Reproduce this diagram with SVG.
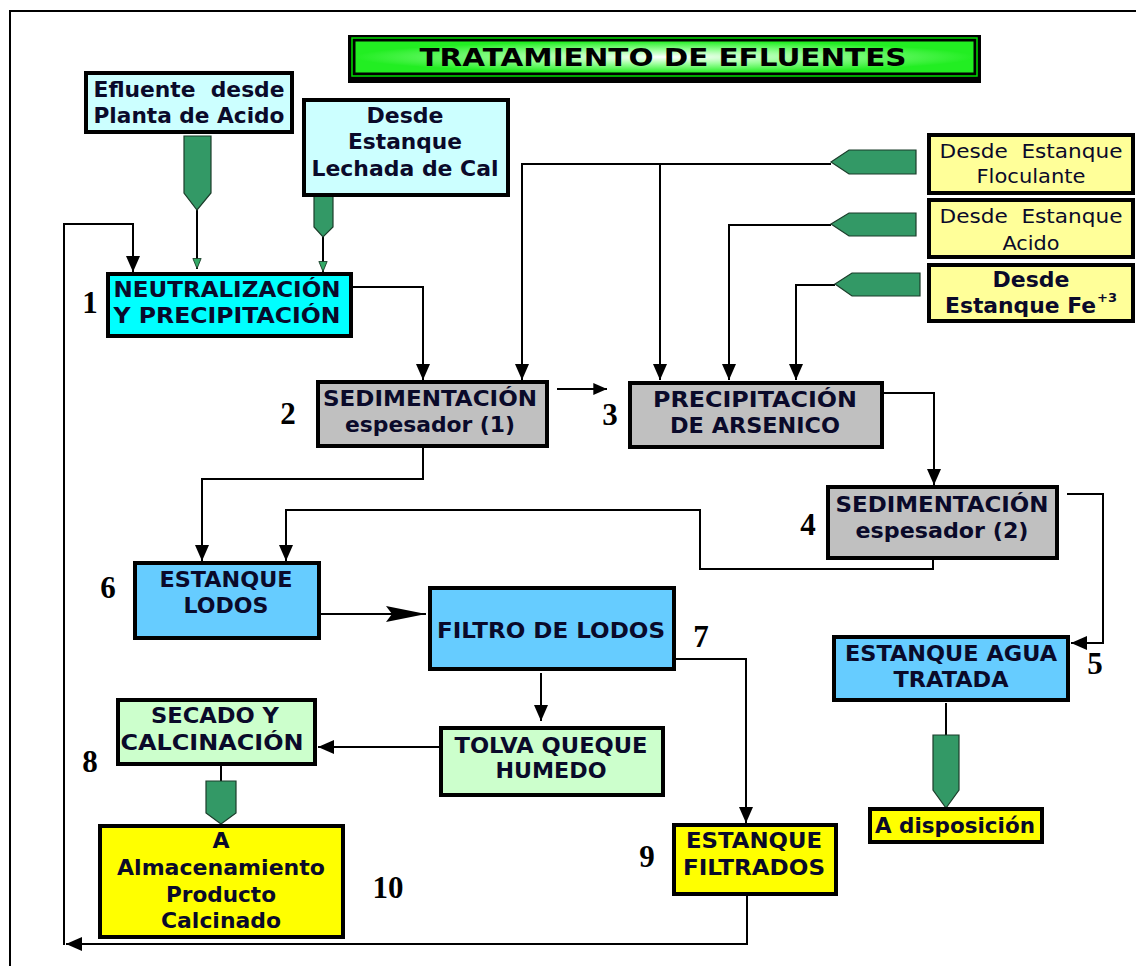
<svg xmlns="http://www.w3.org/2000/svg" width="1136" height="966" viewBox="0 0 1136 966">
<defs>
<radialGradient id="tg" cx="50%" cy="50%" r="50%">
<stop offset="0" stop-color="#ffffff"/>
<stop offset="0.45" stop-color="#99ff99"/>
<stop offset="1" stop-color="#22ee22"/>
</radialGradient>
<marker id="ah" markerUnits="userSpaceOnUse" viewBox="0 0 16 14" refX="16" refY="7" markerWidth="16" markerHeight="14" orient="auto">
<path d="M0,0 L16,7 L0,14 Z" fill="#000"/>
</marker>
<marker id="ahs" markerUnits="userSpaceOnUse" viewBox="0 0 16 14" refX="16" refY="7" markerWidth="14" markerHeight="12" orient="auto">
<path d="M0,0 L16,7 L0,14 Z" fill="#000"/>
</marker>
<marker id="ahl" markerUnits="userSpaceOnUse" viewBox="0 0 40 16" refX="40" refY="8" markerWidth="40" markerHeight="16" orient="auto">
<path d="M0,0 L40,8 L0,16 L6,8 Z" fill="#000"/>
</marker>
<marker id="ahg" markerUnits="userSpaceOnUse" viewBox="0 0 12 10" refX="12" refY="5" markerWidth="11" markerHeight="10" orient="auto">
<path d="M0.5,0.5 L11.5,5 L0.5,9.5 Z" fill="#33aa66" stroke="#1b3d2a" stroke-width="1"/>
</marker>
</defs>
<style>
.box{stroke:#000;stroke-width:4}
.cy{fill:#ccffff}
.aq{fill:#00ffff}
.gr{fill:#c0c0c0}
.bl{fill:#66ccff}
.lg{fill:#ccffcc}
.ye{fill:#ffff00}
.ly{fill:#ffff99}
.t{font-family:"DejaVu Sans","Verdana",sans-serif;font-weight:bold;font-size:22px;fill:#0a0a2a;text-anchor:middle;white-space:pre}
.tn{font-family:"DejaVu Sans","Verdana",sans-serif;font-size:20px;fill:#0a0a2a;text-anchor:middle;white-space:pre}
.n{font-family:"Liberation Serif","Times New Roman",serif;font-weight:bold;font-size:31px;fill:#000;text-anchor:middle}
.c{fill:none;stroke:#000;stroke-width:2}
.ptr{fill:#339966;stroke:#1b3d2a;stroke-width:1.2}
</style>
<rect width="1136" height="966" fill="#fff"/>
<path d="M10,966 V11 H1136" fill="none" stroke="#000" stroke-width="2"/>

<g id="title">
<rect x="348" y="35" width="633" height="48" fill="#000"/>
<rect x="352" y="38" width="625" height="38" fill="none" stroke="#00dd00" stroke-width="1.5"/>
<rect x="355" y="41" width="619" height="32" fill="url(#tg)" stroke="#000" stroke-width="1"/>
<text x="663" y="66" class="t" style="font-size:25px;fill:#000" textLength="487" lengthAdjust="spacingAndGlyphs">TRATAMIENTO DE EFLUENTES</text>
</g>

<g id="connectors">
<path class="c" d="M747,895 V944 H66" marker-end="url(#ah)"/>
<path class="c" d="M64,945 V224 H133 V272" stroke-width="2.5" marker-end="url(#ah)"/>
<path class="c" d="M197,210 V269" stroke-width="1.5" marker-end="url(#ahg)"/>
<path class="c" d="M323,237 V272" stroke-width="3.5" marker-end="url(#ahg)"/>
<path class="c" d="M352,287 H423 V380" marker-end="url(#ah)"/>
<path class="c" d="M831,164 H522 V380" marker-end="url(#ah)"/>
<path class="c" d="M660,164 V380" stroke="#555" stroke-width="1.5" marker-end="url(#ah)"/>
<path class="c" d="M831,225 H729 V380" marker-end="url(#ah)"/>
<path class="c" d="M835,285 H796 V380" marker-end="url(#ah)"/>
<path class="c" d="M557,389 H607" stroke-width="1.5" marker-end="url(#ahs)"/>
<path class="c" d="M883,393 H934 V485" stroke-width="2.5" marker-end="url(#ah)"/>
<path class="c" d="M1067,494 H1103 V643 H1071" stroke-width="2.5" marker-end="url(#ah)"/>
<path class="c" d="M946,703 V735" stroke-width="1.5"/>
<path class="c" d="M423,448 V479 H202 V561" marker-end="url(#ah)"/>
<path class="c" d="M933,559 V569 H700 V510 H286 V561" marker-end="url(#ah)"/>
<path class="c" d="M316,614 H426" stroke-width="2.5" marker-end="url(#ahl)"/>
<path class="c" d="M675,659 H746 V823" marker-end="url(#ah)"/>
<path class="c" d="M541,673 V721" stroke-width="3" marker-end="url(#ah)"/>
<path class="c" d="M440,747 H318" stroke-width="2.5" marker-end="url(#ah)"/>
<path class="c" d="M221,764 V781" stroke-width="3.5"/>
<polygon class="ptr" points="184,136 211,136 211,193 197,210 184,193"/>
<polygon class="ptr" points="314,196 333,196 333,227 323,237 314,227"/>
<polygon class="ptr" points="831,162 849,150 916,150 916,174 849,174"/>
<polygon class="ptr" points="831,224 849,213 916,213 916,236 849,236"/>
<polygon class="ptr" points="835,284 852,273 920,273 920,296 852,296"/>
<polygon class="ptr" points="933,735 959,735 959,790 946,808 933,790"/>
<polygon class="ptr" points="206,781 236,781 236,813 221,824 206,813"/>
</g>

<g id="efluente">
<rect class="box cy" x="86" y="73" width="206" height="59"/>
<text class="t" x="189" y="97" textLength="191" lengthAdjust="spacingAndGlyphs">Efluente  desde</text>
<text class="t" x="189" y="123" textLength="191" lengthAdjust="spacingAndGlyphs">Planta de Acido</text>
</g>

<g id="lechada">
<rect class="box cy" x="304" y="100" width="204" height="95"/>
<text class="t" x="405" y="123" textLength="77" lengthAdjust="spacingAndGlyphs">Desde</text>
<text class="t" x="405" y="149" textLength="114" lengthAdjust="spacingAndGlyphs">Estanque</text>
<text class="t" x="405" y="176" textLength="187" lengthAdjust="spacingAndGlyphs">Lechada de Cal</text>
</g>

<g id="floculante">
<rect class="box ly" x="929" y="135" width="204" height="58"/>
<text class="tn" x="1031" y="158" textLength="183" lengthAdjust="spacingAndGlyphs">Desde  Estanque</text>
<text class="tn" x="1031" y="183" textLength="109" lengthAdjust="spacingAndGlyphs">Floculante</text>
</g>

<g id="acido">
<rect class="box ly" x="929" y="200" width="204" height="57"/>
<text class="tn" x="1031" y="223" textLength="183" lengthAdjust="spacingAndGlyphs">Desde  Estanque</text>
<text class="tn" x="1031" y="250" textLength="57" lengthAdjust="spacingAndGlyphs">Acido</text>
</g>

<g id="fe">
<rect class="box ly" x="929" y="265" width="204" height="56"/>
<text class="t" x="1031" y="287" style="font-size:21px" textLength="77" lengthAdjust="spacingAndGlyphs">Desde</text>
<text class="t" x="945" y="313" style="font-size:21px;text-anchor:start" textLength="151" lengthAdjust="spacingAndGlyphs">Estanque Fe</text>
<text class="t" x="1097" y="302" style="font-size:13px;text-anchor:start">+3</text>
</g>

<g id="neutralizacion">
<rect class="box aq" x="108" y="274" width="243" height="62"/>
<text class="t" x="227" y="297" textLength="227" lengthAdjust="spacingAndGlyphs">NEUTRALIZACIÓN</text>
<text class="t" x="227" y="323" textLength="227" lengthAdjust="spacingAndGlyphs">Y PRECIPITACIÓN</text>
<text class="n" x="90" y="313">1</text>
</g>

<g id="sedimentacion1">
<rect class="box gr" x="318" y="382" width="229" height="64"/>
<text class="t" x="430" y="406" textLength="214" lengthAdjust="spacingAndGlyphs">SEDIMENTACIÓN</text>
<text class="t" x="430" y="432" textLength="170" lengthAdjust="spacingAndGlyphs">espesador (1)</text>
<text class="n" x="288" y="424">2</text>
</g>

<g id="precipitacion">
<rect class="box gr" x="630" y="383" width="252" height="64"/>
<text class="t" x="755" y="407" textLength="204" lengthAdjust="spacingAndGlyphs">PRECIPITACIÓN</text>
<text class="t" x="755" y="433" textLength="170" lengthAdjust="spacingAndGlyphs">DE ARSENICO</text>
<text class="n" x="610" y="425">3</text>
</g>

<g id="sedimentacion2">
<rect class="box gr" x="828" y="487" width="229" height="71"/>
<text class="t" x="942" y="512" textLength="213" lengthAdjust="spacingAndGlyphs">SEDIMENTACIÓN</text>
<text class="t" x="942" y="538" textLength="173" lengthAdjust="spacingAndGlyphs">espesador (2)</text>
<text class="n" x="808" y="535">4</text>
</g>

<g id="agua-tratada">
<rect class="box bl" x="834" y="637" width="234" height="63"/>
<text class="t" x="951" y="661" textLength="212" lengthAdjust="spacingAndGlyphs">ESTANQUE AGUA</text>
<text class="t" x="951" y="687" textLength="115" lengthAdjust="spacingAndGlyphs">TRATADA</text>
<text class="n" x="1095" y="674">5</text>
</g>

<g id="disposicion">
<rect class="box ye" x="870" y="809" width="172" height="33"/>
<text class="t" x="955" y="833" textLength="160" lengthAdjust="spacingAndGlyphs">A disposición</text>
</g>

<g id="estanque-lodos">
<rect class="box bl" x="135" y="563" width="184" height="75"/>
<text class="t" x="226" y="587" textLength="133" lengthAdjust="spacingAndGlyphs">ESTANQUE</text>
<text class="t" x="226" y="613" textLength="85" lengthAdjust="spacingAndGlyphs">LODOS</text>
<text class="n" x="108" y="598">6</text>
</g>

<g id="filtro-lodos">
<rect class="box bl" x="430" y="588" width="244" height="81"/>
<text class="t" x="551" y="638" textLength="228" lengthAdjust="spacingAndGlyphs">FILTRO DE LODOS</text>
<text class="n" x="701" y="647">7</text>
</g>

<g id="tolva">
<rect class="box lg" x="441" y="728" width="222" height="67"/>
<text class="t" x="551" y="753" textLength="193" lengthAdjust="spacingAndGlyphs">TOLVA QUEQUE</text>
<text class="t" x="551" y="778" textLength="111" lengthAdjust="spacingAndGlyphs">HUMEDO</text>
</g>

<g id="secado">
<rect class="box lg" x="118" y="700" width="197" height="64"/>
<text class="t" x="215" y="723" textLength="128" lengthAdjust="spacingAndGlyphs">SECADO Y</text>
<text class="t" x="212" y="750" textLength="183" lengthAdjust="spacingAndGlyphs">CALCINACIÓN</text>
<text class="n" x="90" y="772">8</text>
</g>

<g id="almacenamiento">
<rect class="box ye" x="100" y="826" width="243" height="111"/>
<text class="t" x="221" y="848">A</text>
<text class="t" x="221" y="875" textLength="208" lengthAdjust="spacingAndGlyphs">Almacenamiento</text>
<text class="t" x="221" y="902" textLength="110" lengthAdjust="spacingAndGlyphs">Producto</text>
<text class="t" x="221" y="928" textLength="120" lengthAdjust="spacingAndGlyphs">Calcinado</text>
<text class="n" x="388" y="898">10</text>
</g>

<g id="filtrados">
<rect class="box ye" x="674" y="825" width="162" height="69"/>
<text class="t" x="754" y="848" textLength="136" lengthAdjust="spacingAndGlyphs">ESTANQUE</text>
<text class="t" x="754" y="875" textLength="142" lengthAdjust="spacingAndGlyphs">FILTRADOS</text>
<text class="n" x="647" y="867">9</text>
</g>
</svg>
